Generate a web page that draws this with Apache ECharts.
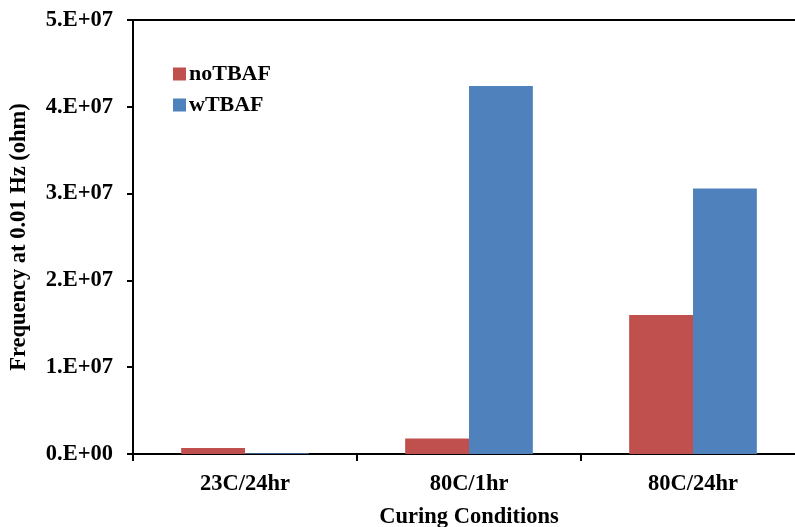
<!DOCTYPE html>
<html>
<head>
<meta charset="utf-8">
<script src="https://cdn.jsdelivr.net/npm/echarts@6/dist/echarts.min.js"></script>
<style>html,body{margin:0;padding:0;background:#fff;}#c{width:795px;height:527px;}</style>
</head>
<body>
<div id="c"></div>
<script>
const categories = ['23C/24hr', '80C/1hr', '80C/24hr'];
const noTBAF = [700000, 1800000, 16000000];
const wTBAF = [100000, 42400000, 30600000];
const yTickLabels = ['0.E+00', '1.E+07', '2.E+07', '3.E+07', '4.E+07', '5.E+07'];

const font = 'Liberation Serif';
const chart = echarts.init(document.getElementById('c'));
chart.setOption({
  animation: false,
  backgroundColor: '#fff',
  grid: { left: 133, top: 20, width: 672, height: 434, outerBoundsMode: 'none', containLabel: false, show: true, borderColor: '#000', borderWidth: 2, backgroundColor: 'transparent' },
  legend: {
    orient: 'vertical', left: 168, top: 58, itemWidth: 13, itemHeight: 13, itemGap: 9,
    icon: 'rect',
    textStyle: { fontFamily: font, fontWeight: 'bold', fontSize: 22, color: '#000', padding: [0, 0, 0, -2] },
    data: ['noTBAF', 'wTBAF']
  },
  xAxis: {
    type: 'category', data: categories,
    name: 'Curing Conditions', nameLocation: 'middle', nameGap: 52,
    nameTextStyle: { fontFamily: font, fontWeight: 'bold', fontSize: 22.5, color: '#000' },
    axisLine: { lineStyle: { color: '#000', width: 2 } },
    axisTick: { show: true, length: 7, lineStyle: { color: '#000', width: 2 } },
    axisLabel: { fontFamily: font, fontWeight: 'bold', fontSize: 22.5, color: '#000', margin: 19 }
  },
  yAxis: {
    type: 'value', min: 0, max: 50000000, interval: 10000000,
    name: 'Frequency at 0.01 Hz (ohm)', nameLocation: 'middle', nameGap: 102,
    nameTextStyle: { fontFamily: font, fontWeight: 'bold', fontSize: 22.5, color: '#000' },
    axisLine: { show: true, lineStyle: { color: '#000', width: 2 } },
    axisTick: { show: true, length: 6, lineStyle: { color: '#000', width: 2 } },
    splitLine: { show: false },
    axisLabel: {
      fontFamily: font, fontWeight: 'bold', fontSize: 22.5, color: '#000', margin: 20,
      formatter: function (v) { return yTickLabels[Math.round(v / 10000000)]; }
    }
  },
  series: [
    { name: 'noTBAF', type: 'bar', data: noTBAF, barGap: '0%', barCategoryGap: '43%', itemStyle: { color: '#C0504D' } },
    { name: 'wTBAF', type: 'bar', data: wTBAF, barGap: '0%', barCategoryGap: '43%', itemStyle: { color: '#4F81BD' } }
  ]
});
</script>
</body>
</html>
